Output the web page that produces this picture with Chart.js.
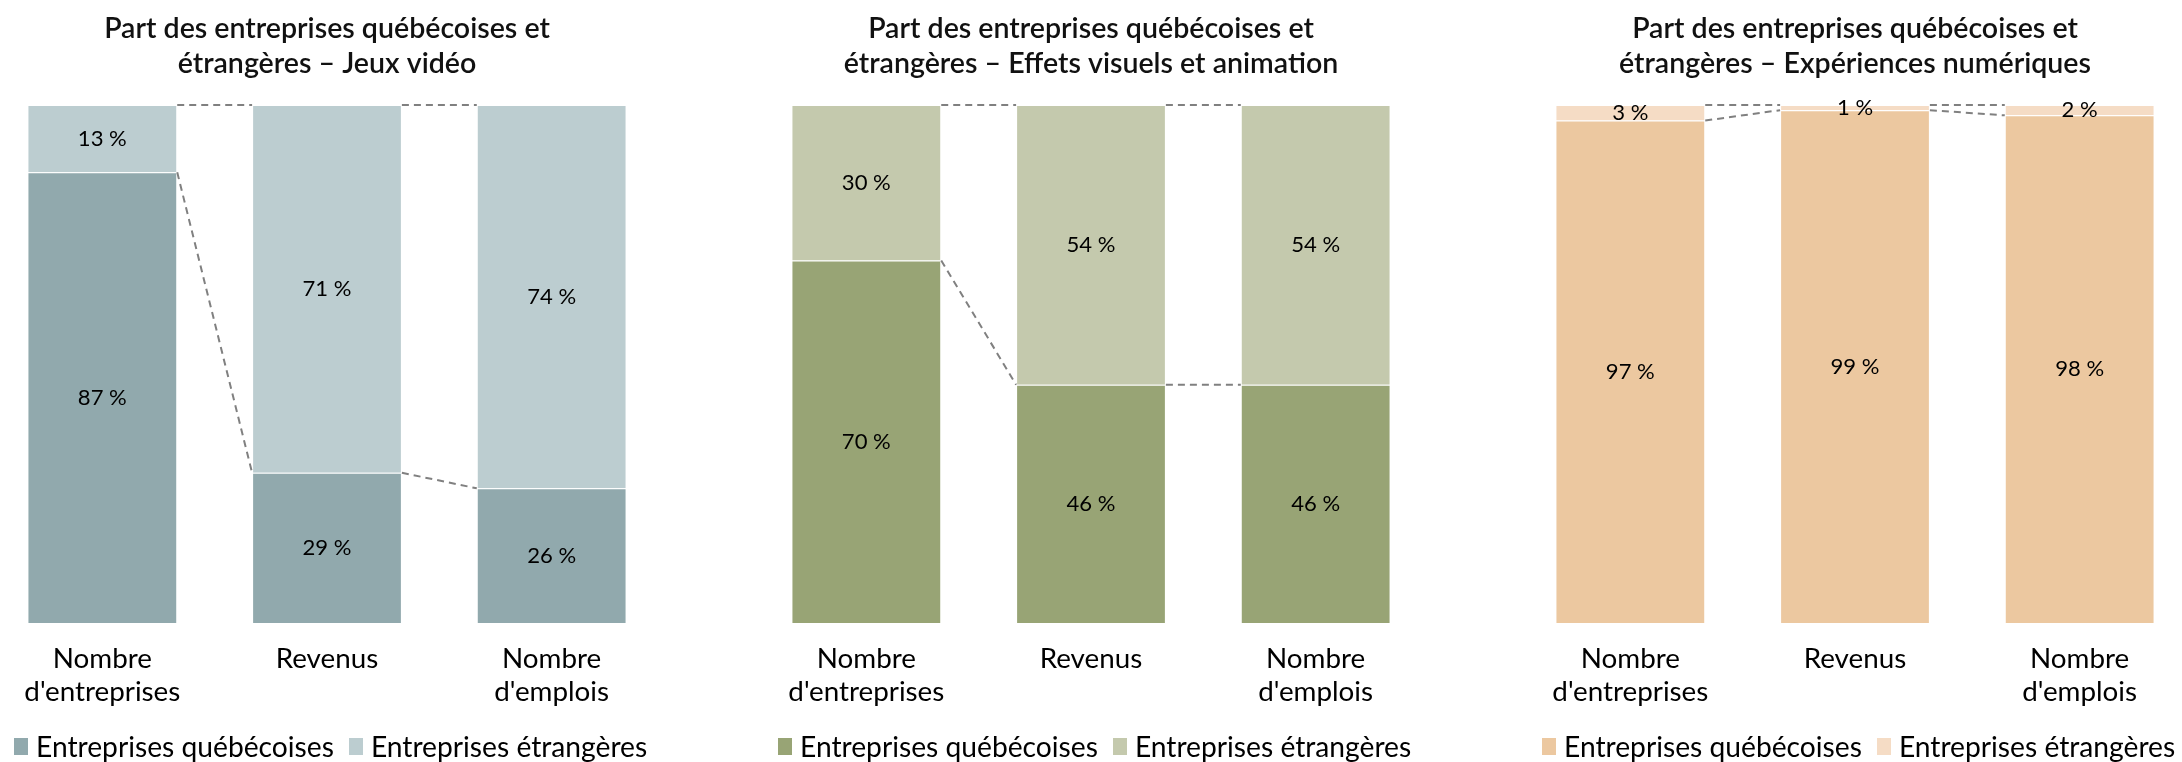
<!DOCTYPE html>
<html>
<head>
<meta charset="utf-8">
<script src="https://cdn.jsdelivr.net/npm/chart.js@4.4.0/dist/chart.umd.min.js"></script>
<style>
  html, body { margin: 0; padding: 0; background: #fff; overflow: hidden; width: 2182px; height: 762px; }
  canvas { position: absolute; top: 0; }
  .legend { position: absolute; display: flex; align-items: center; font-family: Lato, sans-serif; color: #000; white-space: nowrap; }
  .legend .box { display: inline-block; margin-right: 8px; }
  .legend .item { display: flex; align-items: center; margin-right: 15px; }
</style>
</head>
<body>
<canvas id="c1"></canvas>
<canvas id="c2"></canvas>
<canvas id="c3"></canvas>
<div class="legend" id="l1"></div>
<div class="legend" id="l2"></div>
<div class="legend" id="l3"></div>
<script>
const categories = [["Nombre", "d'entreprises"], "Revenus", ["Nombre", "d'emplois"]];
const seriesNames = ["Entreprises québécoises", "Entreprises étrangères"];

const jeuxTitle = ["Part des entreprises québécoises et", "étrangères – Jeux vidéo"];
const jeuxQc = [87, 29, 26];
const jeuxEtr = [13, 71, 74];

const vfxTitle = ["Part des entreprises québécoises et", "étrangères – Effets visuels et animation"];
const vfxQc = [70, 46, 46];
const vfxEtr = [30, 54, 54];

const xpTitle = ["Part des entreprises québécoises et", "étrangères – Expériences numériques"];
const xpQc = [97, 99, 98];
const xpEtr = [3, 1, 2];

Chart.defaults.font.family = "Lato";
Chart.defaults.color = "#000";

// pick font sizes so Lato takes about the same room as the original face
const mctx = document.createElement("canvas").getContext("2d");
function fitFont(text, weight, target) {
  mctx.font = `${weight} 100px Lato`;
  return (100 * target) / mctx.measureText(text).width;
}
const titleSize = fitFont(jeuxTitle[0], 600, 446);
const tickSize = fitFont("d'entreprises", 400, 156);
const legendSize = fitFont(seriesNames[0], 400, 298);
const valueSize = fitFont("87 %", 400, 49);

// dashed lines joining the segment tops of neighbouring bars
const connectors = {
  id: "connectors",
  afterDatasetsDraw(chart) {
    const ctx = chart.ctx;
    ctx.save();
    ctx.strokeStyle = "#808080";
    ctx.lineWidth = 2;
    ctx.setLineDash([7, 5]);
    chart.data.datasets.forEach((ds, di) => {
      const bars = chart.getDatasetMeta(di).data;
      for (let i = 0; i < bars.length - 1; i += 1) {
        const a = bars[i];
        const b = bars[i + 1];
        ctx.beginPath();
        ctx.moveTo(a.x + a.width / 2, a.y);
        ctx.lineTo(b.x - b.width / 2, b.y);
        ctx.stroke();
      }
    });
    ctx.restore();
  },
};

// value in the middle of each segment
const segLabels = {
  id: "segLabels",
  afterDatasetsDraw(chart) {
    const ctx = chart.ctx;
    ctx.save();
    ctx.font = `${valueSize}px Lato`;
    ctx.fillStyle = "#000";
    ctx.textAlign = "center";
    ctx.textBaseline = "middle";
    chart.data.datasets.forEach((ds, di) => {
      chart.getDatasetMeta(di).data.forEach((bar, i) => {
        ctx.fillText(`${ds.data[i]} %`, bar.x, (bar.y + bar.base) / 2);
      });
    });
    ctx.restore();
  },
};

// html legend built from the chart's own legend items
const htmlLegend = {
  id: "htmlLegend",
  afterUpdate(chart, args, opts) {
    const el = document.getElementById(opts.el);
    const items = chart.options.plugins.legend.labels.generateLabels(chart);
    el.innerHTML = "";
    el.style.left = chart.chartArea.left + opts.left + 24 + "px";
    el.style.top = 747 - legendSize * 0.7 + "px";
    el.style.fontSize = legendSize + "px";
    el.style.lineHeight = legendSize * 1.4 + "px";
    items.forEach((it) => {
      const d = document.createElement("span");
      d.className = "item";
      d.innerHTML = `<span class="box" style="width:14px;height:17px;background:${it.fillStyle}"></span>${it.text}`;
      el.appendChild(d);
    });
  },
};

function build(id, legendId, left, title, qc, etr, colQc, colEtr) {
  const c = document.getElementById(id);
  const lh = 33;
  const tl = 659 - 623 - lh / 2;
  const titleLH = 35;
  const titleTop = 29 - titleLH / 2;
  c.width = 674;
  c.height = 762;
  c.style.left = left + "px";
  return new Chart(c, {
    type: "bar",
    data: {
      labels: categories,
      datasets: [
        { label: seriesNames[0], data: qc, backgroundColor: colQc, borderColor: "rgba(255,255,255,0.35)", borderWidth: 1 },
        { label: seriesNames[1], data: etr, backgroundColor: colEtr, borderColor: "rgba(255,255,255,0.35)", borderWidth: 1 },
      ],
    },
    plugins: [connectors, segLabels, htmlLegend],
    options: {
      responsive: false,
      animation: false,
      devicePixelRatio: 1,
      layout: { padding: { bottom: 762 - 623 - tl - 2 * lh } },
      datasets: { bar: { categoryPercentage: 1, barPercentage: 0.6667 } },
      scales: {
        x: {
          stacked: true,
          grid: { display: false, drawTicks: true, tickLength: tl },
          border: { display: false },
          ticks: { padding: 0, font: { size: tickSize, lineHeight: lh / tickSize }, color: "#000", maxRotation: 0 },
        },
        y: { stacked: true, min: 0, max: 100, display: false },
      },
      plugins: {
        title: {
          display: true,
          text: title,
          color: "#111",
          font: { size: titleSize, weight: 600, lineHeight: titleLH / titleSize },
          padding: { top: titleTop, bottom: 105 - titleTop - 2 * titleLH },
        },
        legend: { display: false },
        tooltip: { enabled: false },
        htmlLegend: { el: legendId, left: left },
      },
    },
  });
}

build("c1", "l1", -10, jeuxTitle, jeuxQc, jeuxEtr, "#91a9ad", "#bccdd0");
build("c2", "l2", 754, vfxTitle, vfxQc, vfxEtr, "#98a475", "#c4c9ad");
build("c3", "l3", 1518, xpTitle, xpQc, xpEtr, "#ecc8a0", "#f5dcc5");
</script>
</body>
</html>
